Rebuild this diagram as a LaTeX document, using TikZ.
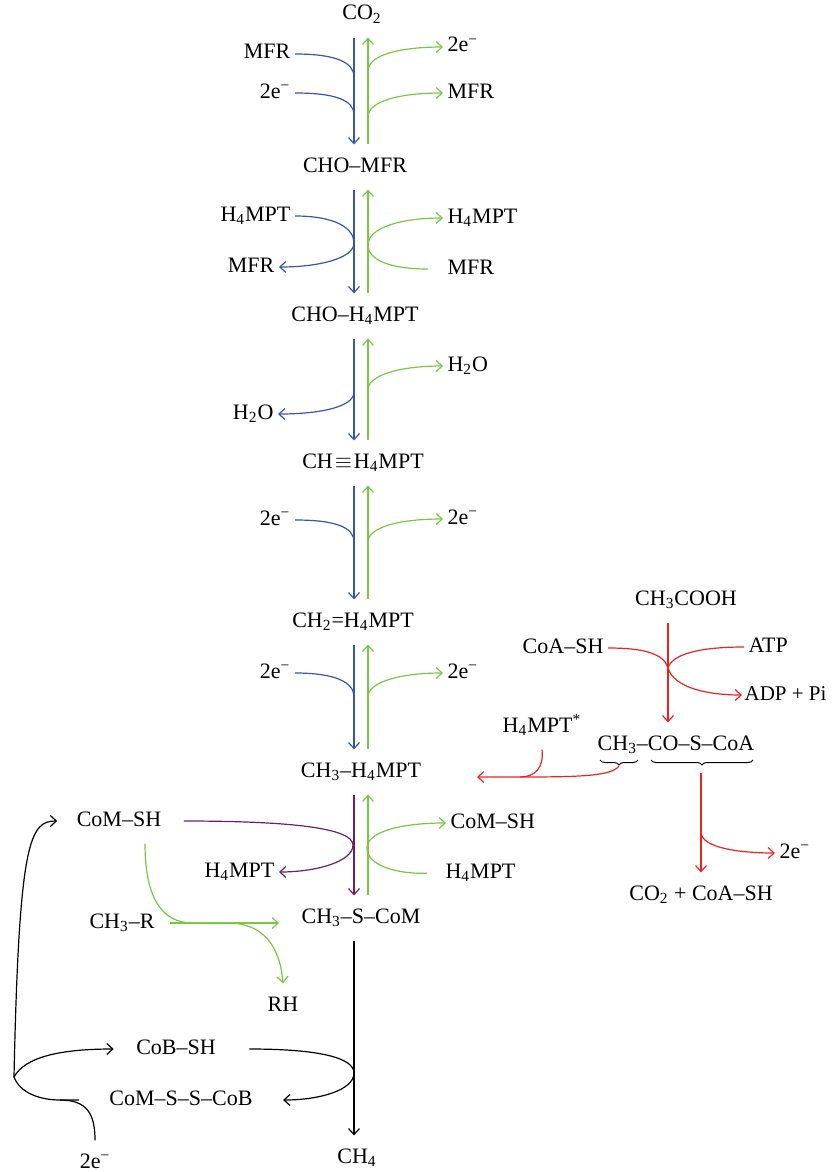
\documentclass[tikz,border=0pt]{standalone}
\usepackage{fontspec}
\setmainfont{Liberation Serif}
\usetikzlibrary{arrows.meta, decorations.pathreplacing}

\definecolor{cblue}{RGB}{55,85,175}
\definecolor{cgreen}{RGB}{120,200,70}
\definecolor{cpurple}{RGB}{110,30,100}
\definecolor{cred}{RGB}{235,35,35}

\newcommand{\twoe}{2e\textsuperscript{−}}
\newcommand{\hmpt}{H\textsubscript{4}MPT}

\begin{document}
\begin{tikzpicture}[
        x=0.5pt, y=-0.5pt,
        line width=0.6pt,
        >={Straight Barb[length=3pt,width=5.5pt]},
        every node/.style={font=\fontsize{11pt}{13pt}\selectfont, inner xsep=2pt, inner ysep=5.5pt, text height=8pt, text depth=3pt},
        fwd/.style={draw=cblue},
        bwd/.style={draw=cgreen},
        mtr/.style={draw=cpurple},
        acet/.style={draw=cred},
        cyc/.style={draw=black}
    ]
    \useasboundingbox (0,0) rectangle (832,1172);

    % Columns of the long arrows
    \coordinate (dn) at (354,0);
    \coordinate (up) at (368,0);

    % Main chain
    \node (co2) at (362,15) {CO\textsubscript{2}};
    \node (chomfr) at (355,167) {CHO--MFR};
    \node (chompt) at (355,316) {CHO--\hmpt};
    \node (chmpt) at (363,463) {CH\kern1pt$\equiv$\kern1pt\hmpt};
    \node (chtwo) at (353,622) {CH\textsubscript{2}=\hmpt};
    \node (chthree) at (361,772) {CH\textsubscript{3}--\hmpt};
    \node (ch3scom) at (361,918) {CH\textsubscript{3}--S--CoM};
    \node (ch4) at (357,1158) {CH\textsubscript{4}};

    % Side labels, step 1
    \node[anchor=east] (mfra) at (295,54) {MFR};
    \node[anchor=east] (ea) at (295,93) {\twoe};
    \node[anchor=west] (eb) at (443,47) {\twoe};
    \node[anchor=west] (mfrb) at (443,93) {MFR};

    % Side labels, step 2
    \node[anchor=east] (hma) at (295,216) {\hmpt};
    \node[anchor=east] (mfrc) at (279,267) {MFR};
    \node[anchor=west] (hmb) at (443,218) {\hmpt};
    \node[anchor=west] (mfrd) at (443,269) {MFR};

    % Side labels, step 3 to 5
    \node[anchor=east] (wa) at (278,414) {H\textsubscript{2}O};
    \node[anchor=west] (wb) at (443,366) {H\textsubscript{2}O};
    \node[anchor=east] (ec) at (295,520) {\twoe};
    \node[anchor=west] (ed) at (443,519) {\twoe};
    \node[anchor=east] (ee) at (295,673) {\twoe};
    \node[anchor=west] (eff) at (443,673) {\twoe};

    % Side labels, methyl transfer
    \node (comsha) at (119,821) {CoM--SH};
    \node[anchor=east] (hmc) at (279,872) {\hmpt};
    \node[anchor=west] (comshb) at (446,823) {CoM--SH};
    \node[anchor=west] (hmd) at (441,873) {\hmpt};
    \node (ch3r) at (122,923) {CH\textsubscript{3}--R};
    \node (rh) at (283,1006) {RH};

    % Heterodisulfide cycle
    \node (cobsh) at (176,1049) {CoB--SH};
    \node (comssb) at (181,1100) {CoM--S--S--CoB};
    \node (etwo) at (95,1163) {\twoe};

    % Acetate branch
    \node (acoh) at (686,600) {CH\textsubscript{3}COOH};
    \node[anchor=east] (coash) at (608,648) {CoA--SH};
    \node[anchor=west] (atp) at (744,647) {ATP};
    \node[anchor=west, inner xsep=1pt, font=\fontsize{10.5pt}{12pt}\selectfont] (adp) at (742,695) {ADP + Pi};
    \node (hstar) at (542,727) {\hmpt\textsuperscript{*}};
    \node (acetyl) at (676,745) {CH\textsubscript{3}--CO--S--CoA};
    \node[anchor=west] (eg) at (775,853) {\twoe};
    \node (co2coa) at (701,895) {CO\textsubscript{2} + CoA--SH};

    % Junction points
    \coordinate (j1) at (354,77);
    \coordinate (j2) at (354,115);
    \coordinate (k1) at (368,71);
    \coordinate (k2) at (368,117);
    \coordinate (j3) at (354,243);
    \coordinate (k3) at (368,245);
    \coordinate (j4) at (354,392);
    \coordinate (k4) at (368,390);
    \coordinate (j5) at (354,542);
    \coordinate (k5) at (368,542);
    \coordinate (j6) at (354,697);
    \coordinate (k6) at (368,697);
    \coordinate (j7) at (353,845);
    \coordinate (k7) at (367,848);
    \coordinate (g1) at (193,923);
    \coordinate (g2) at (228,923);
    \coordinate (m1) at (354,1073);
    \coordinate (lp) at (14,1077);
    \coordinate (lz) at (60,1100);
    \coordinate (stub) at (79,1100);
    \coordinate (rv) at (668,668);
    \coordinate (bt1) at (619,766);
    \coordinate (rm) at (520,777);
    \coordinate (ra) at (477,777);
    \coordinate (bt2) at (701,773);
    \coordinate (rj) at (701,832);

    % Edges CO2 to CHO-MFR
    \draw[fwd,->] (co2.south -| dn) -- (chomfr.north -| dn);
    \draw[bwd,->] (chomfr.north -| up) -- (co2.south -| up);
    \draw[fwd] (mfra.east) .. controls (335,54) and (354,62) .. (j1);
    \draw[fwd] (ea.east) .. controls (335,93) and (354,100) .. (j2);
    \draw[bwd,->] (k1) .. controls (368,55) and (400,47) .. (eb.west);
    \draw[bwd,->] (k2) .. controls (368,101) and (400,93) .. (mfrb.west);

    % Edges CHO-MFR to CHO-H4MPT
    \draw[fwd,->] (chomfr.south -| dn) -- (chompt.north -| dn);
    \draw[bwd,->] (chompt.north -| up) -- (chomfr.south -| up);
    \draw[fwd,->] (hma.east) .. controls (335,216) and (354,228) .. (j3) .. controls (354,258) and (320,267) .. (mfrc.east);
    \draw[bwd,->,shorten <=7.5pt] (mfrd.west) .. controls (390,269) and (368,260) .. (k3) .. controls (368,228) and (400,218) .. (hmb.west);

    % Edges CHO-H4MPT to CH=H4MPT
    \draw[fwd,->] (chompt.south -| dn) -- (chmpt.north -| dn);
    \draw[bwd,->] (chmpt.north -| up) -- (chompt.south -| up);
    \draw[fwd,->] (j4) .. controls (354,407) and (320,414) .. (wa.east);
    \draw[bwd,->] (k4) .. controls (368,375) and (400,366) .. (wb.west);

    % Edges CH=H4MPT to CH2=H4MPT
    \draw[fwd,->] (chmpt.south -| dn) -- (chtwo.north -| dn);
    \draw[bwd,->] (chtwo.north -| up) -- (chmpt.south -| up);
    \draw[fwd] (ec.east) .. controls (335,520) and (354,527) .. (j5);
    \draw[bwd,->] (k5) .. controls (368,527) and (400,519) .. (ed.west);

    % Edges CH2=H4MPT to CH3-H4MPT
    \draw[fwd,->] (chtwo.south -| dn) -- (chthree.north -| dn);
    \draw[bwd,->] (chthree.north -| up) -- (chtwo.south -| up);
    \draw[fwd] (ee.east) .. controls (335,673) and (354,682) .. (j6);
    \draw[bwd,->] (k6) .. controls (368,682) and (400,673) .. (eff.west);

    % Edges CH3-H4MPT to CH3-S-CoM
    \draw[mtr,->] (chthree.south -| dn) -- (ch3scom.north -| dn);
    \draw[bwd,->] (ch3scom.north -| up) -- (chthree.south -| up);
    \draw[mtr,->,shorten <=9pt] (comsha.east) .. controls (290,821) and (353,828) .. (j7) .. controls (353,862) and (315,872) .. (hmc.east);
    \draw[bwd,->,shorten <=7pt] (hmd.west) .. controls (395,874) and (367,865) .. (k7) .. controls (367,832) and (400,823) .. (comshb.west);

    % Edges methylotrophic route
    \draw[bwd] (comsha.-41) .. controls (145,895) and (160,923) .. (g1);
    \draw[bwd,->,shorten <=5.5pt,shorten >=9pt] (ch3r.east) -- (ch3r.east -| ch3scom.west);
    \draw[bwd,->] (g2) .. controls (262,923) and (280,945) .. (rh.north);

    % Edges CH3-S-CoM to CH4 and the cycle
    \draw[cyc,->] (ch3scom.south -| dn) -- (ch4.north -| dn);
    \draw[cyc,->,shorten <=14.5pt,shorten >=13pt] (cobsh.east) .. controls (320,1049) and (354,1058) .. (m1) .. controls (354,1090) and (320,1100) .. (comssb.east);
    \draw[cyc,->,shorten >=9pt] (lp) .. controls (25,1057) and (60,1049) .. (cobsh.west);
    \draw[cyc] (lp) .. controls (20,1093) and (40,1100) .. (lz) -- (stub);
    \draw[cyc] (etwo.north) .. controls (95,1115) and (88,1100) .. (lz);
    \draw[cyc,->,shorten >=7.5pt] (lp) .. controls (19,840) and (30,821) .. (comsha.west);

    % Edges acetate branch
    \draw[acet,->] (acoh.south -| rv) -- (acetyl.north -| rv);
    \draw[acet] (coash.east) .. controls (645,648) and (664,654) .. (rv);
    \draw[acet,->] (atp.west) .. controls (700,647) and (672,654) .. (rv) .. controls (674,688) and (708,695) .. (adp.west);
    \draw[line width=0.5pt, decorate, decoration={brace, mirror, amplitude=2.5pt}] (600,760) -- (638,760);
    \draw[line width=0.5pt, decorate, decoration={brace, mirror, amplitude=2.5pt}] (651,760) -- (753,760);
    \draw[acet,->] (bt1) .. controls (612,776) and (580,777) .. (rm) -- (ra);
    \draw[acet] (hstar.south) .. controls (544,768) and (535,777) .. (rm);
    \draw[acet,->] (bt2) -- (co2coa.north);
    \draw[acet,->] (rj) .. controls (701,848) and (740,853) .. (eg.west);

\end{tikzpicture}
\end{document}
